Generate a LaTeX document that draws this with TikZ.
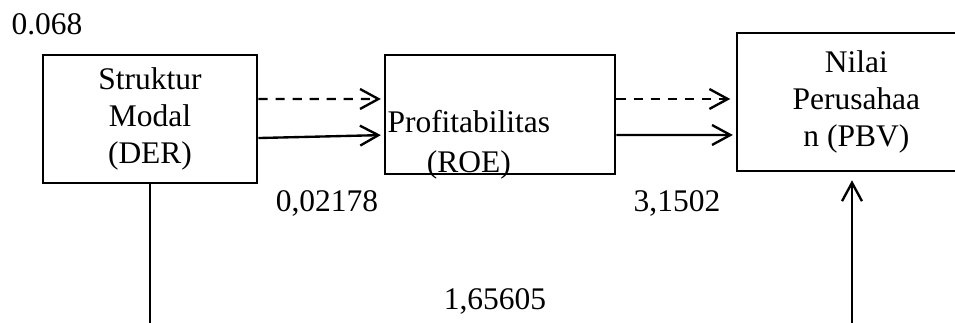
\documentclass[tikz,border=0pt]{standalone}
\usepackage{fontspec}
\setmainfont{Liberation Serif}
\usepackage{tikz}
\usetikzlibrary{arrows.meta}
\usetikzlibrary{positioning}
\tikzset{
    var/.style={
      rectangle,
           draw=black, line width=1.1pt,
           inner sep=2pt,
           align=center,
           font=\fontsize{12}{14}\selectfont,
           },
}
\tikzset{
    coef/.style={
      inner sep=0pt,
           font=\fontsize{12}{14}\selectfont,
           },
}
\tikzset{
    link/.style={
      -{Straight Barb[length=7pt,width=7.6pt]},
           line width=0.9pt,
           },
}

\begin{document}
\begin{tikzpicture}[x=0.0134cm,y=-0.0134cm]
\useasboundingbox (0,0) rectangle (955,323);

\node[var,minimum width=2.868cm,minimum height=1.715cm](sm) at (150,119){Struktur\\Modal\\(DER)};
\node[var,minimum width=3.082cm,minimum height=1.595cm,right = 1.675cm of sm.north east,anchor=north west](prof){};
\node[coef,align=center,anchor=north west](proftxt) at (387,110){Profitabilitas\\[1pt](ROE)};
\node[var,minimum width=3.2cm,minimum height=1.849cm,right = 1.595cm of prof.north east,anchor=north west,yshift=0.295cm](pbv){Nilai\\Perusahaa\\n (PBV)};

\node[coef,anchor=base](c0) at (47,35){0.068};
\node[coef,anchor=base](c1) at (327,212){0,02178};
\node[coef,anchor=base](c2) at (677,212){3,1502};
\node[coef,anchor=base](c3) at (495,310){1,65605};

\path ([yshift=0.268cm]sm.east) edge[link,dash pattern=on 3.5pt off 3pt,shorten >=1pt]([yshift=0.208cm]prof.west);
\path ([yshift=-0.255cm]sm.east) edge[link,shorten >=1pt]([yshift=-0.275cm]prof.west);

\path ([yshift=0.208cm]prof.east) edge[link,dash pattern=on 3.5pt off 3pt,shorten >=2pt]([yshift=0.04cm]pbv.west);
\path ([yshift=-0.275cm]prof.east) edge[link,shorten >=1pt]([yshift=-0.442cm]pbv.west);

% lower path, runs off the bottom edge
\coordinate (dbot) at (150,335);
\coordinate (pbot) at (852,335);
\path (sm.south) edge[-,line width=0.4pt](dbot);
\path (pbot) edge[link,shorten >=3pt](pbot |- pbv.south);

\end{tikzpicture}
\end{document}
